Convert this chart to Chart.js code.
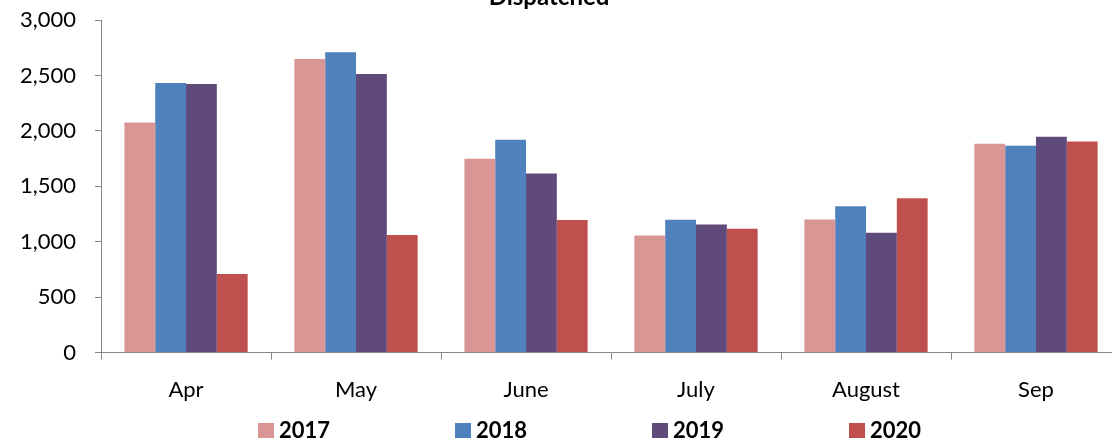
<!DOCTYPE html>
<html>
<head>
<meta charset="utf-8">
<script src="https://cdn.jsdelivr.net/npm/chart.js@4.4.0/dist/chart.umd.min.js"></script>
<style>
  html, body { margin: 0; padding: 0; overflow: hidden; background: #fff; }
  #wrap { width: 1180px; height: 442px; }
</style>
</head>
<body>
<div id="wrap"><canvas id="grafico"></canvas></div>
<script>
// Datos
const meses = ["Apr", "May", "June", "July", "August", "Sep"];
const anios = ["2017", "2018", "2019", "2020"];
const valores2017 = [2075, 2648, 1748, 1057, 1200, 1883];
const valores2018 = [2432, 2709, 1921, 1198, 1321, 1865];
const valores2019 = [2423, 2513, 1615, 1156, 1081, 1946];
const valores2020 = [709, 1060, 1195, 1117, 1393, 1904];
const ticksY = [0, 500, 1000, 1500, 2000, 2500, 3000];

const colores = ["#D99694", "#4F81BD", "#604A7B", "#C0504D"];
const ejeColor = "#868686";
const fuente = "Lato, 'Open Sans', sans-serif";

// Titulo recortado arriba, como en la imagen
const tituloPlugin = {
  id: "titulo",
  afterDraw: function (chart) {
    const ctx = chart.ctx;
    ctx.save();
    ctx.font = "bold 24px " + fuente;
    ctx.fillStyle = "#000";
    ctx.textAlign = "center";
    ctx.textBaseline = "alphabetic";
    ctx.fillText("Dispatched", 549, 5);
    ctx.restore();
  },
};

// Leyenda propia (la de Chart.js mete demasiado alto con tanto espacio)
const leyendaPlugin = {
  id: "leyenda",
  afterDraw: function (chart) {
    const ctx = chart.ctx;
    ctx.save();
    ctx.font = "bold 22px " + fuente;
    ctx.textBaseline = "alphabetic";
    ctx.textAlign = "left";
    chart.data.datasets.forEach((ds, i) => {
      const x = 258 + i * 197;
      ctx.fillStyle = ds.backgroundColor;
      ctx.fillRect(x, 423, 16, 15);
      ctx.fillStyle = "#000";
      ctx.fillText(ds.label, x + 21, 438);
    });
    ctx.restore();
  },
};

new Chart(document.getElementById("grafico"), {
  type: "bar",
  data: {
    labels: meses,
    datasets: [valores2017, valores2018, valores2019, valores2020].map((d, i) => ({
      label: anios[i],
      data: d,
      backgroundColor: colores[i],
      borderWidth: 0,
      barPercentage: 1,
      categoryPercentage: 0.725,
    })),
  },
  options: {
    responsive: true,
    maintainAspectRatio: false,
    animation: false,
    layout: { autoPadding: false, padding: { left: 1, right: 59, top: 20, bottom: 22 } },
    plugins: {
      tooltip: { enabled: false },
      legend: { display: false },
    },
    scales: {
      x: {
        grid: {
          display: true,
          drawOnChartArea: false,
          drawTicks: true,
          tickLength: 7,
          color: ejeColor,
          offset: true,
        },
        border: { display: true, color: ejeColor, width: 1 },
        ticks: {
          color: "#000",
          padding: 17,
          font: { family: fuente, size: 22 },
        },
      },
      y: {
        min: 0,
        max: 3000,
        afterBuildTicks: function (scale) {
          scale.ticks = ticksY.map((v) => ({ value: v }));
        },
        // el padding de las etiquetas empuja el area hacia abajo, se anula
        afterFit: function (scale) {
          scale.paddingTop = 0;
          scale.paddingBottom = 0;
        },
        grid: {
          display: true,
          drawOnChartArea: false,
          drawTicks: true,
          tickLength: 6,
          color: ejeColor,
        },
        border: { display: true, color: ejeColor, width: 1 },
        ticks: {
          color: "#000",
          padding: 19,
          font: { family: fuente, size: 22 },
          callback: (v) => v.toLocaleString("en-US"),
        },
      },
    },
  },
  plugins: [tituloPlugin, leyendaPlugin],
});
</script>
</body>
</html>
